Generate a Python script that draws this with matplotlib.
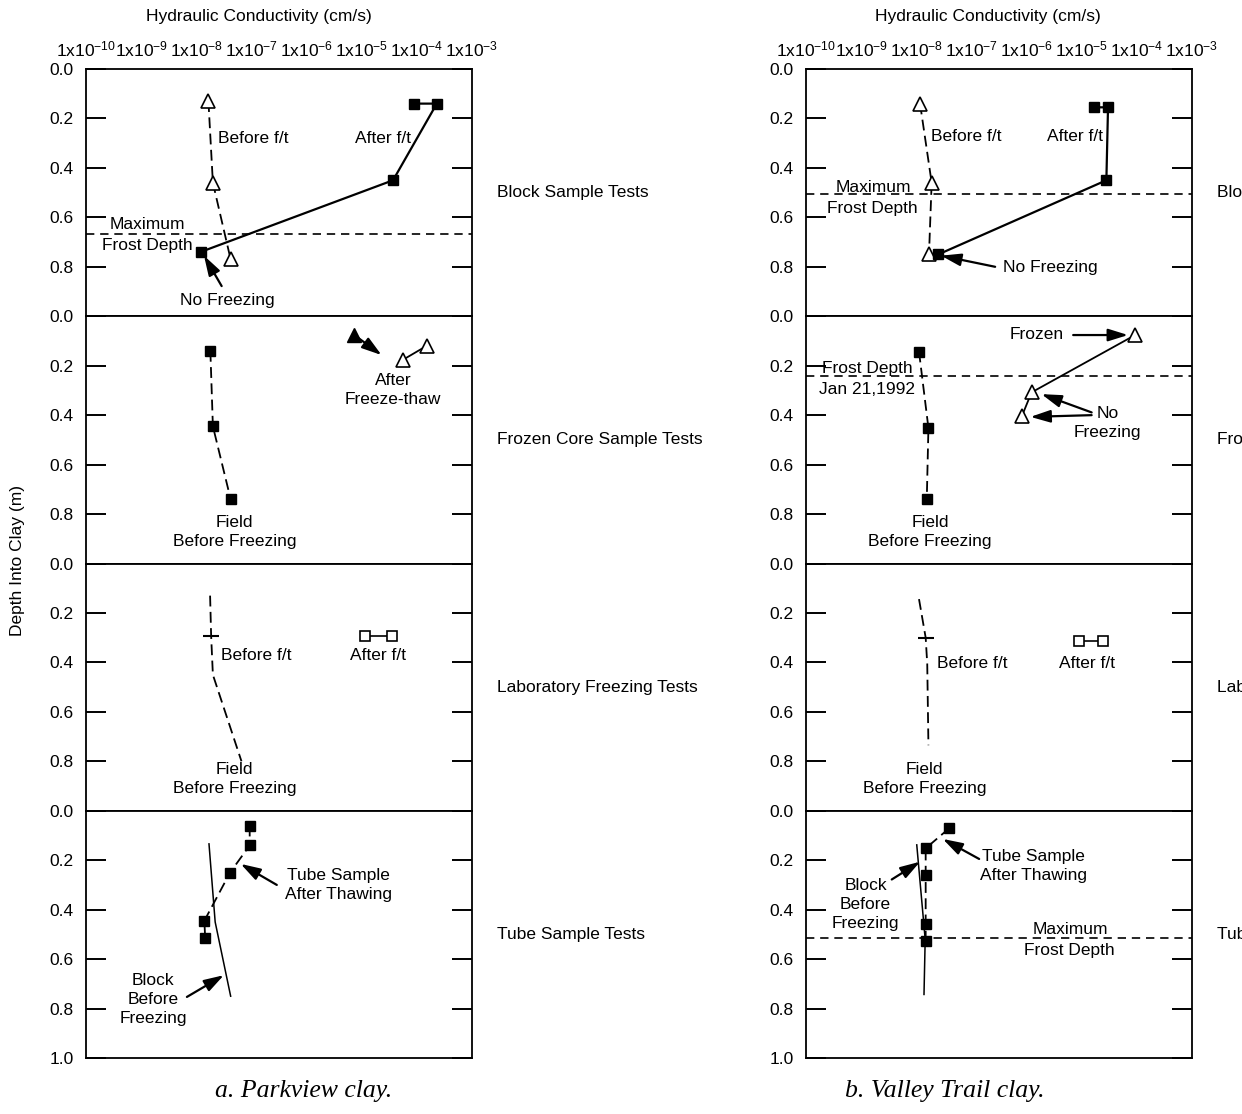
import matplotlib
matplotlib.use('Agg')
import matplotlib.pyplot as plt

plt.rcParams['font.family'] = ['Liberation Sans', 'DejaVu Sans']
plt.rcParams['font.size'] = 12.5

# x ticks (hydraulic conductivity, cm/s) and depth ticks
k_ticks = [1e-10, 1e-9, 1e-8, 1e-7, 1e-6, 1e-5, 1e-4, 1e-3]
k_labels = [r'$\mathregular{1x10^{-%d}}$' % n for n in range(10, 2, -1)]
depth_ticks = [0.0, 0.2, 0.4, 0.6, 0.8]
panel_names = ['Block Sample Tests', 'Frozen Core Sample Tests',
               'Laboratory Freezing Tests', 'Tube Sample Tests']

# ---- a. Parkview clay ----
pv_blk_before_k = [1.66e-8, 2.0e-8, 4.2e-8]
pv_blk_before_d = [0.13, 0.46, 0.77]
pv_blk_after_k = [8.9e-5, 2.3e-4, 3.7e-5, 1.2e-8]
pv_blk_after_d = [0.14, 0.14, 0.45, 0.74]
pv_blk_frost = 0.667

pv_core_field_k = [1.8e-8, 2.0e-8, 4.2e-8]
pv_core_field_d = [0.14, 0.445, 0.74]
pv_core_frozen_k = [7.2e-6]
pv_core_frozen_d = [0.075]
pv_core_open_k = [1.5e-4, 5.7e-5]
pv_core_open_d = [0.12, 0.175]

pv_lab_before_k = [1.78e-8, 1.86e-8, 2.0e-8, 6.6e-8]
pv_lab_before_d = [0.13, 0.294, 0.45, 0.80]
pv_lab_after_k = [1.15e-5, 3.6e-5]
pv_lab_after_d = [0.294, 0.294]

pv_tube_after_k = [9.3e-8, 9.3e-8, 4.1e-8, 1.4e-8, 1.45e-8]
pv_tube_after_d = [0.06, 0.14, 0.25, 0.445, 0.515]
pv_tube_block_k = [1.7e-8, 2.2e-8, 4.2e-8]
pv_tube_block_d = [0.134, 0.45, 0.75]

# ---- b. Valley Trail clay ----
vt_blk_before_k = [1.17e-8, 1.9e-8, 1.7e-8]
vt_blk_before_d = [0.14, 0.46, 0.75]
vt_blk_after_k = [1.66e-5, 3.0e-5, 2.8e-5, 2.5e-8]
vt_blk_after_d = [0.155, 0.155, 0.45, 0.75]
vt_blk_frost = 0.507

vt_core_field_k = [1.12e-8, 1.66e-8, 1.55e-8]
vt_core_field_d = [0.143, 0.452, 0.74]
vt_core_tri_k = [9.3e-5, 1.23e-6, 8.3e-7]
vt_core_tri_d = [0.076, 0.308, 0.402]
vt_core_frost = 0.24

vt_lab_before_k = [1.12e-8, 1.48e-8, 1.58e-8, 1.66e-8]
vt_lab_before_d = [0.144, 0.30, 0.406, 0.735]
vt_lab_after_k = [8.9e-6, 2.45e-5]
vt_lab_after_d = [0.315, 0.315]

vt_tube_after_k = [4.0e-8, 1.48e-8, 1.48e-8, 1.48e-8, 1.48e-8]
vt_tube_after_d = [0.07, 0.152, 0.258, 0.457, 0.527]
vt_tube_block_k = [1.02e-8, 1.45e-8, 1.38e-8]
vt_tube_block_d = [0.138, 0.52, 0.743]
vt_tube_frost = 0.515

W, H = 1242, 1114
fig = plt.figure(figsize=(W / 100, H / 100), dpi=100)

DASH = (6, 3)


def make_column(x_left):
    axes = []
    top, bottom = 1 - 69 / H, 1 - 1058 / H
    h = (top - bottom) / 4
    for i in range(4):
        ax = fig.add_axes([x_left / W, top - (i + 1) * h, 386 / W, h])
        ax.set_xscale('log')
        ax.set_xlim(1e-10, 1e-3)
        ax.set_ylim(1, 0)
        ax.minorticks_off()
        ticks = depth_ticks + ([1.0] if i == 3 else [])
        ax.set_yticks(ticks)
        ax.set_yticklabels(['%.1f' % t for t in ticks])
        ax.tick_params(axis='y', direction='in', length=14.5, width=1.4,
                       left=True, right=True, pad=9)
        if i == 0:
            ax.set_xticks(k_ticks)
            ax.set_xticklabels(k_labels, fontsize=12.5)
            ax.tick_params(axis='x', top=True, labeltop=True, bottom=False,
                           labelbottom=False, length=0, pad=7)
        else:
            ax.set_xticks([])
        for s in ax.spines.values():
            s.set_linewidth(1.3)
        # panel names run past the figure edge on the right column, as in the source
        ax.text(1.065, 0.5, panel_names[i], transform=ax.transAxes,
                ha='left', va='center', clip_on=False)
        axes.append(ax)
    return axes


def lab(ax, e, d, s):
    ax.text(10 ** e, d, s, ha='center', va='center', linespacing=1.35)


def arrow(ax, tail, tip):
    ax.annotate('', xy=(10 ** tip[0], tip[1]), xytext=(10 ** tail[0], tail[1]),
                arrowprops=dict(arrowstyle='-|>,head_length=0.8,head_width=0.25',
                                color='k', lw=1.6, mutation_scale=15,
                                shrinkA=0, shrinkB=0))


def frost(ax, d):
    ax.axhline(d, color='k', lw=1.2, ls=(0, (5, 3.5)))


def open_tri(ax, k, d, ls):
    ax.plot(k, d, color='k', lw=1.3, ls=ls, marker='^', ms=9.5,
            mfc='white', mec='k', mew=1.2)


def filled_sq(ax, k, d, ls, lw=1.6):
    ax.plot(k, d, color='k', lw=lw, ls=ls, marker='s', ms=7.5,
            mfc='k', mec='k')


# ---------------- Parkview ----------------
pv = make_column(86)
ax = pv[0]
open_tri(ax, pv_blk_before_k, pv_blk_before_d, (0, DASH))
filled_sq(ax, pv_blk_after_k, pv_blk_after_d, '-')
frost(ax, pv_blk_frost)
lab(ax, -8.89, 0.63, 'Maximum')
lab(ax, -8.89, 0.715, 'Frost Depth')
lab(ax, -6.97, 0.28, 'Before f/t')
lab(ax, -4.61, 0.28, 'After f/t')
lab(ax, -7.44, 0.935, 'No Freezing')
arrow(ax, (-7.54, 0.878), (-7.86, 0.755))

ax = pv[1]
filled_sq(ax, pv_core_field_k, pv_core_field_d, (0, DASH), lw=1.3)
ax.plot(pv_core_frozen_k, pv_core_frozen_d, ls='none', marker='^', ms=9.5,
        mfc='k', mec='k')
arrow(ax, (-5.14, 0.075), (-4.64, 0.157))
open_tri(ax, pv_core_open_k, pv_core_open_d, '-')
lab(ax, -4.43, 0.297, 'After\nFreeze-thaw')
lab(ax, -7.31, 0.872, 'Field\nBefore Freezing')

ax = pv[2]
ax.plot(pv_lab_before_k, pv_lab_before_d, color='k', lw=1.3, ls=(0, DASH),
        marker='_', ms=11, mew=1.5, markevery=[1])
ax.plot(pv_lab_after_k, pv_lab_after_d, color='k', lw=1.2, marker='s', ms=6.5,
        mfc='white', mec='k', mew=1.2)
lab(ax, -6.905, 0.372, 'Before f/t')
lab(ax, -4.71, 0.372, 'After f/t')
lab(ax, -7.31, 0.87, 'Field\nBefore Freezing')

ax = pv[3]
filled_sq(ax, pv_tube_after_k, pv_tube_after_d, (0, DASH), lw=1.3)
ax.plot(pv_tube_block_k, pv_tube_block_d, color='k', lw=1.1)
lab(ax, -5.42, 0.30, 'Tube Sample\nAfter Thawing')
arrow(ax, (-6.54, 0.30), (-7.195, 0.215))
lab(ax, -8.78, 0.764, 'Block\nBefore\nFreezing')
arrow(ax, (-8.17, 0.753), (-7.50, 0.665))

# ---------------- Valley Trail ----------------
vt = make_column(806)
ax = vt[0]
open_tri(ax, vt_blk_before_k, vt_blk_before_d, (0, DASH))
filled_sq(ax, vt_blk_after_k, vt_blk_after_d, '-')
frost(ax, vt_blk_frost)
lab(ax, -8.78, 0.478, 'Maximum')
lab(ax, -8.80, 0.564, 'Frost Depth')
lab(ax, -7.10, 0.273, 'Before f/t')
lab(ax, -5.12, 0.273, 'After f/t')
lab(ax, -5.575, 0.804, 'No Freezing')
arrow(ax, (-6.57, 0.80), (-7.55, 0.755))

ax = vt[1]
filled_sq(ax, vt_core_field_k, vt_core_field_d, (0, DASH), lw=1.3)
open_tri(ax, vt_core_tri_k, vt_core_tri_d, '-')
frost(ax, vt_core_frost)
lab(ax, -8.88, 0.211, 'Frost Depth')
lab(ax, -8.89, 0.298, 'Jan 21,1992')
lab(ax, -5.82, 0.072, 'Frozen')
arrow(ax, (-5.155, 0.076), (-4.16, 0.076))
lab(ax, -4.53, 0.431, 'No\nFreezing')
arrow(ax, (-4.82, 0.389), (-5.73, 0.315))
arrow(ax, (-4.82, 0.40), (-5.93, 0.407))
lab(ax, -7.75, 0.874, 'Field\nBefore Freezing')

ax = vt[2]
ax.plot(vt_lab_before_k, vt_lab_before_d, color='k', lw=1.3, ls=(0, DASH),
        marker='_', ms=11, mew=1.5, markevery=[1])
ax.plot(vt_lab_after_k, vt_lab_after_d, color='k', lw=1.2, marker='s', ms=6.5,
        mfc='white', mec='k', mew=1.2)
lab(ax, -6.98, 0.406, 'Before f/t')
lab(ax, -4.91, 0.406, 'After f/t')
lab(ax, -7.855, 0.87, 'Field\nBefore Freezing')

ax = vt[3]
filled_sq(ax, vt_tube_after_k, vt_tube_after_d, (0, DASH), lw=1.3)
ax.plot(vt_tube_block_k, vt_tube_block_d, color='k', lw=1.1)
frost(ax, vt_tube_frost)
lab(ax, -5.21, 0.48, 'Maximum')
lab(ax, -5.22, 0.565, 'Frost Depth')
lab(ax, -5.88, 0.224, 'Tube Sample\nAfter Thawing')
arrow(ax, (-6.86, 0.195), (-7.52, 0.114))
lab(ax, -8.92, 0.38, 'Block\nBefore\nFreezing')
arrow(ax, (-8.445, 0.278), (-7.93, 0.206))

# figure texts
for xc in (259, 988):
    fig.text(xc / W, 1 - 17 / H, 'Hydraulic Conductivity (cm/s)',
             ha='center', va='center')
fig.text(18 / W, 1 - 560 / H, 'Depth Into Clay (m)', rotation=90,
         ha='center', va='center')
fig.text(304 / W, 1 - 1091 / H, 'a. Parkview clay.', family='Liberation Serif',
         style='italic', size=18.5, ha='center', va='center')
fig.text(945 / W, 1 - 1091 / H, 'b. Valley Trail clay.', family='Liberation Serif',
         style='italic', size=18.5, ha='center', va='center')

fig.savefig('out.png', dpi=100)
